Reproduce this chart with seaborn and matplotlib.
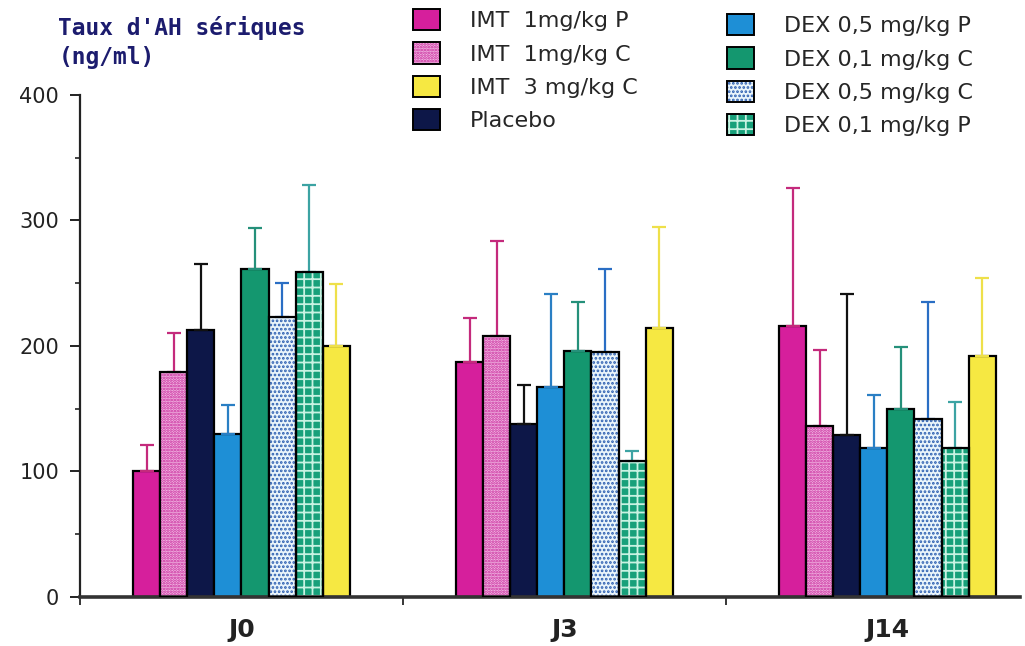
import pandas as pd
import matplotlib
matplotlib.use("Agg")
import matplotlib.pyplot as plt
import seaborn as sns
from matplotlib.patches import Patch, Rectangle
from matplotlib.legend_handler import HandlerTuple

# données
jours = ["J0", "J3", "J14"]
groupes = ["IMT  1mg/kg P", "IMT  1mg/kg C", "Placebo", "DEX 0,5 mg/kg P",
           "DEX 0,1 mg/kg C", "DEX 0,5 mg/kg C", "DEX 0,1 mg/kg P", "IMT  3 mg/kg C"]

moy_j0 = [100, 179, 213, 130, 261, 223, 259, 200]
moy_j3 = [187, 208, 138, 167, 196, 195, 108, 214]
moy_j14 = [216, 136, 129, 119, 150, 142, 119, 192]

sd_j0 = [21, 31, 52, 23, 33, 27, 69, 49]
sd_j3 = [35, 76, 31, 74, 39, 66, 8, 81]
sd_j14 = [110, 61, 112, 42, 49, 93, 36, 62]

legende_imt = ["IMT  1mg/kg P", "IMT  1mg/kg C", "IMT  3 mg/kg C", "Placebo"]
legende_dex = ["DEX 0,5 mg/kg P", "DEX 0,1 mg/kg C", "DEX 0,5 mg/kg C", "DEX 0,1 mg/kg P"]

# styles
fill = {
    "IMT  1mg/kg P": "#d61f9c",
    "IMT  1mg/kg C": "#f2b8e4",
    "Placebo": "#0d1748",
    "DEX 0,5 mg/kg P": "#1e8fd6",
    "DEX 0,1 mg/kg C": "#14976f",
    "DEX 0,5 mg/kg C": "#eaf5fb",
    "DEX 0,1 mg/kg P": "#17a07a",
    "IMT  3 mg/kg C": "#f6e842",
}
hatches = {
    "IMT  1mg/kg C": ("......", "#c8289a"),
    "DEX 0,5 mg/kg C": ("....", "#2a5db0"),
    "DEX 0,1 mg/kg P": ("++", "#c8f2e2"),
}
err_col = {
    "IMT  1mg/kg P": "#c42a7c",
    "IMT  1mg/kg C": "#c42a7c",
    "Placebo": "#111111",
    "DEX 0,5 mg/kg P": "#2a7fc4",
    "DEX 0,1 mg/kg C": "#25907a",
    "DEX 0,5 mg/kg C": "#2a6ec4",
    "DEX 0,1 mg/kg P": "#3ca3a3",
    "IMT  3 mg/kg C": "#eee04a",
}

rows = []
for jour, moys, sds in zip(jours, [moy_j0, moy_j3, moy_j14], [sd_j0, sd_j3, sd_j14]):
    for g, m, s in zip(groupes, moys, sds):
        rows.append({"jour": jour, "groupe": g, "taux": m, "sd": s})
df = pd.DataFrame(rows)

sns.set_theme(style="white")
plt.rcParams["hatch.linewidth"] = 1.3

fig = plt.figure(figsize=(10.25, 6.46), dpi=100)
ax = fig.add_axes([0.078, 0.076, 0.917, 0.777])

sns.barplot(data=df, x="jour", y="taux", hue="groupe", order=jours, hue_order=groupes,
            palette=fill, saturation=1, width=0.67, errorbar=None, legend=False,
            edgecolor="black", linewidth=1.6, ax=ax)

for g, cont in zip(groupes, ax.containers):
    sub = df[df["groupe"] == g].set_index("jour").loc[jours]
    for bar, sd in zip(cont, sub["sd"]):
        xc = bar.get_x() + bar.get_width() / 2
        ax.errorbar(xc, bar.get_height(), yerr=[[0], [sd]], color=err_col[g],
                    capsize=5, elinewidth=1.6, capthick=1.6, zorder=1)
        if g in hatches:
            h, hc = hatches[g]
            bar.set_hatch(h)
            bar.set_edgecolor(hc)
            bar.set_linewidth(0)
            ax.add_patch(Rectangle(bar.get_xy(), bar.get_width(), bar.get_height(),
                                   fill=False, edgecolor="black", linewidth=1.6, zorder=3))

ax.set_ylim(0, 400)
ax.set_xlim(-0.5, 2.41)
ax.set_xlabel("")
ax.set_ylabel("")
ax.set_yticks([0, 100, 200, 300, 400])
ax.set_yticks([50, 150, 250, 350], minor=True)
ax.tick_params(axis="y", which="major", direction="out", length=7, width=1.4,
               labelsize=15, pad=8, left=True, colors="#222222")
ax.tick_params(axis="y", which="minor", direction="out", length=3.6, width=1.2, left=True)
ax.set_xticks([0, 1, 2])
ax.set_xticklabels(jours, fontsize=18, fontweight="bold", color="#222222")
ax.set_xticks([-0.5, 0.5, 1.5], minor=True)
ax.tick_params(axis="x", which="major", length=0, pad=15)
ax.tick_params(axis="x", which="minor", direction="out", length=6, width=1.3, bottom=True)
sns.despine(ax=ax)
ax.spines["left"].set_linewidth(1.6)
ax.spines["left"].set_color("#222222")
ax.spines["bottom"].set_linewidth(2.6)
ax.spines["bottom"].set_color("#333333")

fig.text(0.057, 0.975, "Taux d'AH sériques\n(ng/ml)", family="DejaVu Sans Mono",
         weight="bold", color="#1c1c6e", size=16.5, va="top", linespacing=1.3)


def make_handle(g):
    if g in hatches:
        h, hc = hatches[g]
        return (Patch(facecolor=fill[g], edgecolor=hc, hatch=h, linewidth=0),
                Patch(fill=False, edgecolor="black", linewidth=1.4))
    return Patch(facecolor=fill[g], edgecolor="black", linewidth=1.4)


leg_kw = dict(loc="upper left", frameon=False, fontsize=16, handlelength=1.22,
              handleheight=1.1, handletextpad=1.35, labelspacing=0.5,
              borderpad=0, borderaxespad=0,
              handler_map={tuple: HandlerTuple(ndivide=1)})
fig.legend([make_handle(g) for g in legende_imt], legende_imt,
           bbox_to_anchor=(413 / 1025, 1 - 9 / 646), **leg_kw)
fig.legend([make_handle(g) for g in legende_dex], legende_dex,
           bbox_to_anchor=(727 / 1025, 1 - 14 / 646), **leg_kw)

fig.savefig("out.png", dpi=100)
